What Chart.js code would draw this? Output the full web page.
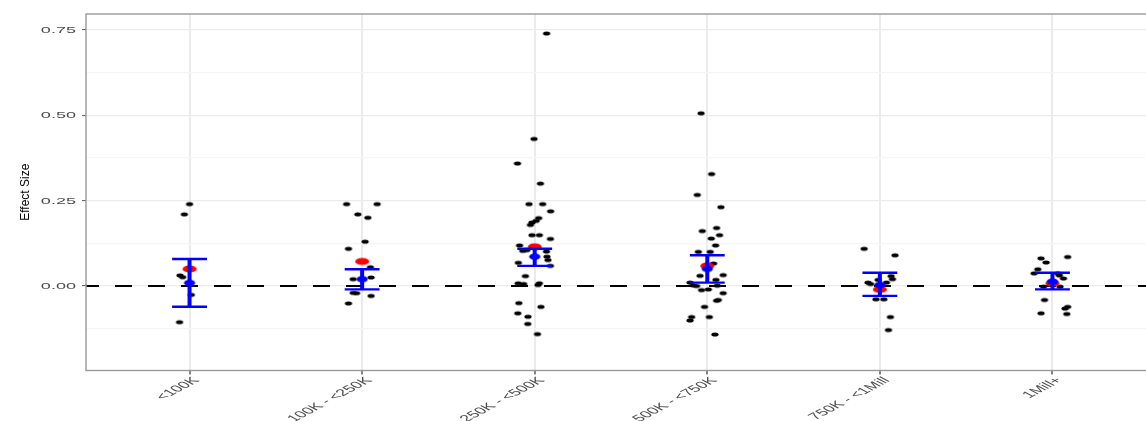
<!DOCTYPE html>
<html>
<head>
<meta charset="utf-8">
<script src="https://cdn.jsdelivr.net/npm/chart.js@4.4.1/dist/chart.umd.min.js"></script>
<style>
  html, body { margin: 0; padding: 0; background: #ffffff; overflow: hidden; }
  #wrap { width: 1161px; height: 421px; }
</style>
</head>
<body>
<div id="wrap"><canvas id="chart" width="1161" height="421"></canvas></div>
<script>
// Revenue bands on the x axis
const categories = ['<100K', '100K - <250K', '250K - <500K', '500K - <750K', '750K - <1Mill', '1Mill+'];

// Summary per band: mean (red), interval centre (blue) and interval limits
const meanValues   = [0.050, 0.072, 0.115, 0.059, -0.010, 0.008];
const centerValues = [0.009, 0.020, 0.086, 0.050, 0.003, 0.013];
const upperValues  = [0.079, 0.049, 0.109, 0.090, 0.039, 0.039];
const lowerValues  = [-0.061, -0.010, 0.059, 0.010, -0.029, -0.010];

// Individual study effect sizes per band
const effectsLt100K = [0.240, 0.210, 0.031, 0.026, 0.008, -0.026, -0.106];
const effects100K = [0.240, 0.240, 0.210, 0.200, 0.130, 0.109, 0.055, 0.025, 0.020, -0.020, -0.021, -0.029, -0.051];
const effects250K = [0.740, 0.431, 0.359, 0.300, 0.240, 0.240, 0.219, 0.199, 0.191, 0.186, 0.179, 0.149, 0.149, 0.138,
  0.119, 0.103, 0.105, 0.101, 0.086, 0.076, 0.059, 0.068, 0.029, 0.008, 0.006, 0.008, 0.003, -0.050, -0.061, -0.080,
  -0.090, -0.111, -0.141];
const effects500K = [0.506, 0.328, 0.267, 0.231, 0.161, 0.170, 0.149, 0.139, 0.119, 0.100, 0.100, 0.066, 0.030, 0.032,
  0.018, 0.010, 0.002, 0.000, -0.012, -0.010, 0.001, -0.021, -0.041, -0.043, -0.061, -0.091, -0.101, -0.091, -0.142];
const effects750K = [0.109, 0.090, 0.029, 0.020, 0.010, 0.006, 0.018, 0.010, -0.039, -0.039, -0.091, -0.129];
const effects1Mill = [0.081, 0.069, 0.085, 0.049, 0.037, 0.037, 0.031, 0.022, -0.002, -0.002, -0.041, -0.080, -0.061,
  -0.066, -0.082];

// Horizontal jitter of each study within its band (category units)
const jitterLt100K = [0.000, -0.030, -0.055, -0.040, 0.000, 0.010, -0.058];
const jitter100K = [-0.090, 0.087, -0.025, 0.033, 0.017, -0.079, 0.048, 0.052, -0.052, -0.052, -0.032, 0.052, -0.079];
const jitter250K = [0.069, -0.004, -0.100, 0.033, -0.033, 0.046, 0.092, 0.023, 0.008, -0.016, -0.025, -0.016, 0.027,
  0.091, -0.088, -0.069, -0.046, 0.068, 0.071, 0.077, 0.091, -0.095, -0.054, -0.096, -0.064, 0.027, 0.019, -0.092,
  0.036, -0.098, -0.039, -0.040, 0.016];
const jitter500K = [-0.036, 0.025, -0.058, 0.079, -0.029, 0.054, 0.071, 0.023, 0.048, -0.052, 0.017, 0.036, -0.042,
  0.092, 0.050, -0.100, -0.081, -0.062, -0.033, 0.006, 0.058, 0.092, 0.064, 0.054, -0.016, -0.091, -0.100, 0.012, 0.044];
const jitter750K = [-0.091, 0.088, 0.065, 0.073, -0.069, -0.054, -0.010, 0.038, -0.023, 0.023, 0.061, 0.050];
const jitter1Mill = [-0.066, -0.037, 0.088, -0.085, -0.106, 0.031, 0.040, 0.064, -0.052, 0.044, -0.046, -0.066, 0.088,
  0.073, 0.083];

// Axis ticks
const yMajorTicks = [0, 0.25, 0.5, 0.75];
const yMinorTicks = [-0.125, 0.125, 0.375, 0.625];

const effectsByBand = [effectsLt100K, effects100K, effects250K, effects500K, effects750K, effects1Mill];
const jitterByBand = [jitterLt100K, jitter100K, jitter250K, jitter500K, jitter750K, jitter1Mill];

// Elliptical marker sprites
function ellipseSprite(rx, ry, color) {
  const c = document.createElement('canvas');
  c.width = Math.ceil(rx * 2) + 2;
  c.height = Math.ceil(ry * 2) + 2;
  const g = c.getContext('2d');
  g.fillStyle = color;
  g.beginPath();
  g.ellipse(c.width / 2, c.height / 2, rx, ry, 0, 0, Math.PI * 2);
  g.fill();
  return c;
}
const blackDot = ellipseSprite(3.6, 2.1, '#000000');
const redDot = ellipseSprite(7, 3.6, '#ff0000');
const blueDot = ellipseSprite(5.6, 3.2, '#0000ff');

const studyPoints = [];
effectsByBand.forEach((vals, i) => {
  vals.forEach((v, j) => studyPoints.push({ x: i + 1 + jitterByBand[i][j], y: v }));
});
const meanPoints = meanValues.map((v, i) => ({ x: i + 1, y: v }));
const centerPoints = centerValues.map((v, i) => ({ x: i + 1, y: v }));

const capHalf = 0.101;
const stemPoints = [];
const capPoints = [];
categories.forEach((c, i) => {
  const x = i + 1;
  stemPoints.push({ x, y: upperValues[i] }, { x, y: lowerValues[i] }, { x, y: null });
  capPoints.push({ x: x - capHalf, y: upperValues[i] }, { x: x + capHalf, y: upperValues[i] }, { x, y: null });
  capPoints.push({ x: x - capHalf, y: lowerValues[i] }, { x: x + capHalf, y: lowerValues[i] }, { x, y: null });
});

// Panel frame, stretched tick labels and axis title
const decorations = {
  id: 'decorations',
  afterDraw(chart) {
    const { ctx, chartArea: a, scales: { x, y } } = chart;
    ctx.save();
    ctx.strokeStyle = '#9a9a9a';
    ctx.lineWidth = 1.4;
    ctx.strokeRect(a.left, a.top, a.right - a.left, a.bottom - a.top);

    ctx.fillStyle = '#4d4d4d';
    ctx.font = '9.5px "Liberation Sans", Arial, sans-serif';
    yMajorTicks.forEach(v => {
      const py = y.getPixelForValue(v);
      ctx.save();
      ctx.translate(76, py);
      ctx.scale(1.9, 1);
      ctx.textAlign = 'right';
      ctx.textBaseline = 'middle';
      ctx.fillText(v.toFixed(2), 0, 0.5);
      ctx.restore();
    });
    categories.forEach((label, i) => {
      const px = x.getPixelForValue(i + 1);
      ctx.save();
      ctx.translate(px + 7, 379);
      ctx.scale(1.9, 1);
      ctx.rotate(-Math.PI / 4);
      ctx.textAlign = 'right';
      ctx.textBaseline = 'middle';
      ctx.fillText(label, 0, 0);
      ctx.restore();
    });

    ctx.fillStyle = '#000000';
    ctx.font = '12px "Liberation Sans", Arial, sans-serif';
    ctx.translate(25, (a.top + a.bottom) / 2);
    ctx.rotate(-Math.PI / 2);
    ctx.scale(1.0, 1.08);
    ctx.textAlign = 'center';
    ctx.textBaseline = 'middle';
    ctx.fillText('Effect Size', 0, 0);
    ctx.restore();
  }
};

new Chart(document.getElementById('chart'), {
  type: 'scatter',
  data: {
    datasets: [
      {
        label: 'centre',
        data: centerPoints,
        pointStyle: blueDot,
        order: 1
      },
      {
        label: 'caps',
        data: capPoints,
        showLine: true,
        spanGaps: false,
        borderColor: '#0000ff',
        borderWidth: 2.4,
        pointRadius: 0,
        order: 2
      },
      {
        label: 'stems',
        data: stemPoints,
        showLine: true,
        spanGaps: false,
        borderColor: '#0000ff',
        borderWidth: 4,
        pointRadius: 0,
        order: 2
      },
      {
        label: 'mean',
        data: meanPoints,
        pointStyle: redDot,
        order: 3
      },
      {
        label: 'studies',
        data: studyPoints,
        pointStyle: blackDot,
        order: 4
      },
      {
        label: 'zero',
        data: [{ x: 0.4, y: 0 }, { x: 6.6, y: 0 }],
        showLine: true,
        borderColor: '#000000',
        borderWidth: 2.2,
        borderDash: [17, 16],
        borderDashOffset: 4,
        pointRadius: 0,
        order: 5
      }
    ]
  },
  options: {
    responsive: false,
    animation: false,
    devicePixelRatio: 1,
    layout: { padding: { left: 0, right: 1, top: 14, bottom: 0 } },
    plugins: { legend: { display: false }, tooltip: { enabled: false } },
    scales: {
      x: {
        type: 'linear',
        min: 0.4,
        max: 6.6,
        afterBuildTicks(scale) {
          scale.ticks = categories.map((c, i) => ({ value: i + 1 }));
        },
        afterFit(scale) { scale.height = 50.5; },
        ticks: { display: false },
        border: { display: false },
        grid: {
          color: '#ebebeb',
          lineWidth: 2,
          tickColor: '#333333',
          tickLength: 4,
          tickWidth: 1.2
        }
      },
      y: {
        type: 'linear',
        min: -0.2476,
        max: 0.797,
        afterBuildTicks(scale) {
          scale.ticks = yMinorTicks.concat(yMajorTicks).sort((a, b) => a - b).map(v => ({ value: v }));
        },
        afterFit(scale) { scale.width = 86; },
        ticks: { display: false },
        border: { display: false },
        grid: {
          color: ctx => yMajorTicks.includes(ctx.tick.value) ? '#ebebeb' : '#f5f5f5',
          lineWidth: 1.2,
          tickColor: ctx => yMajorTicks.includes(ctx.tick.value) ? '#555555' : 'rgba(0,0,0,0)',
          tickLength: 4,
          tickWidth: 1
        }
      }
    }
  },
  plugins: [decorations]
});
</script>
</body>
</html>
